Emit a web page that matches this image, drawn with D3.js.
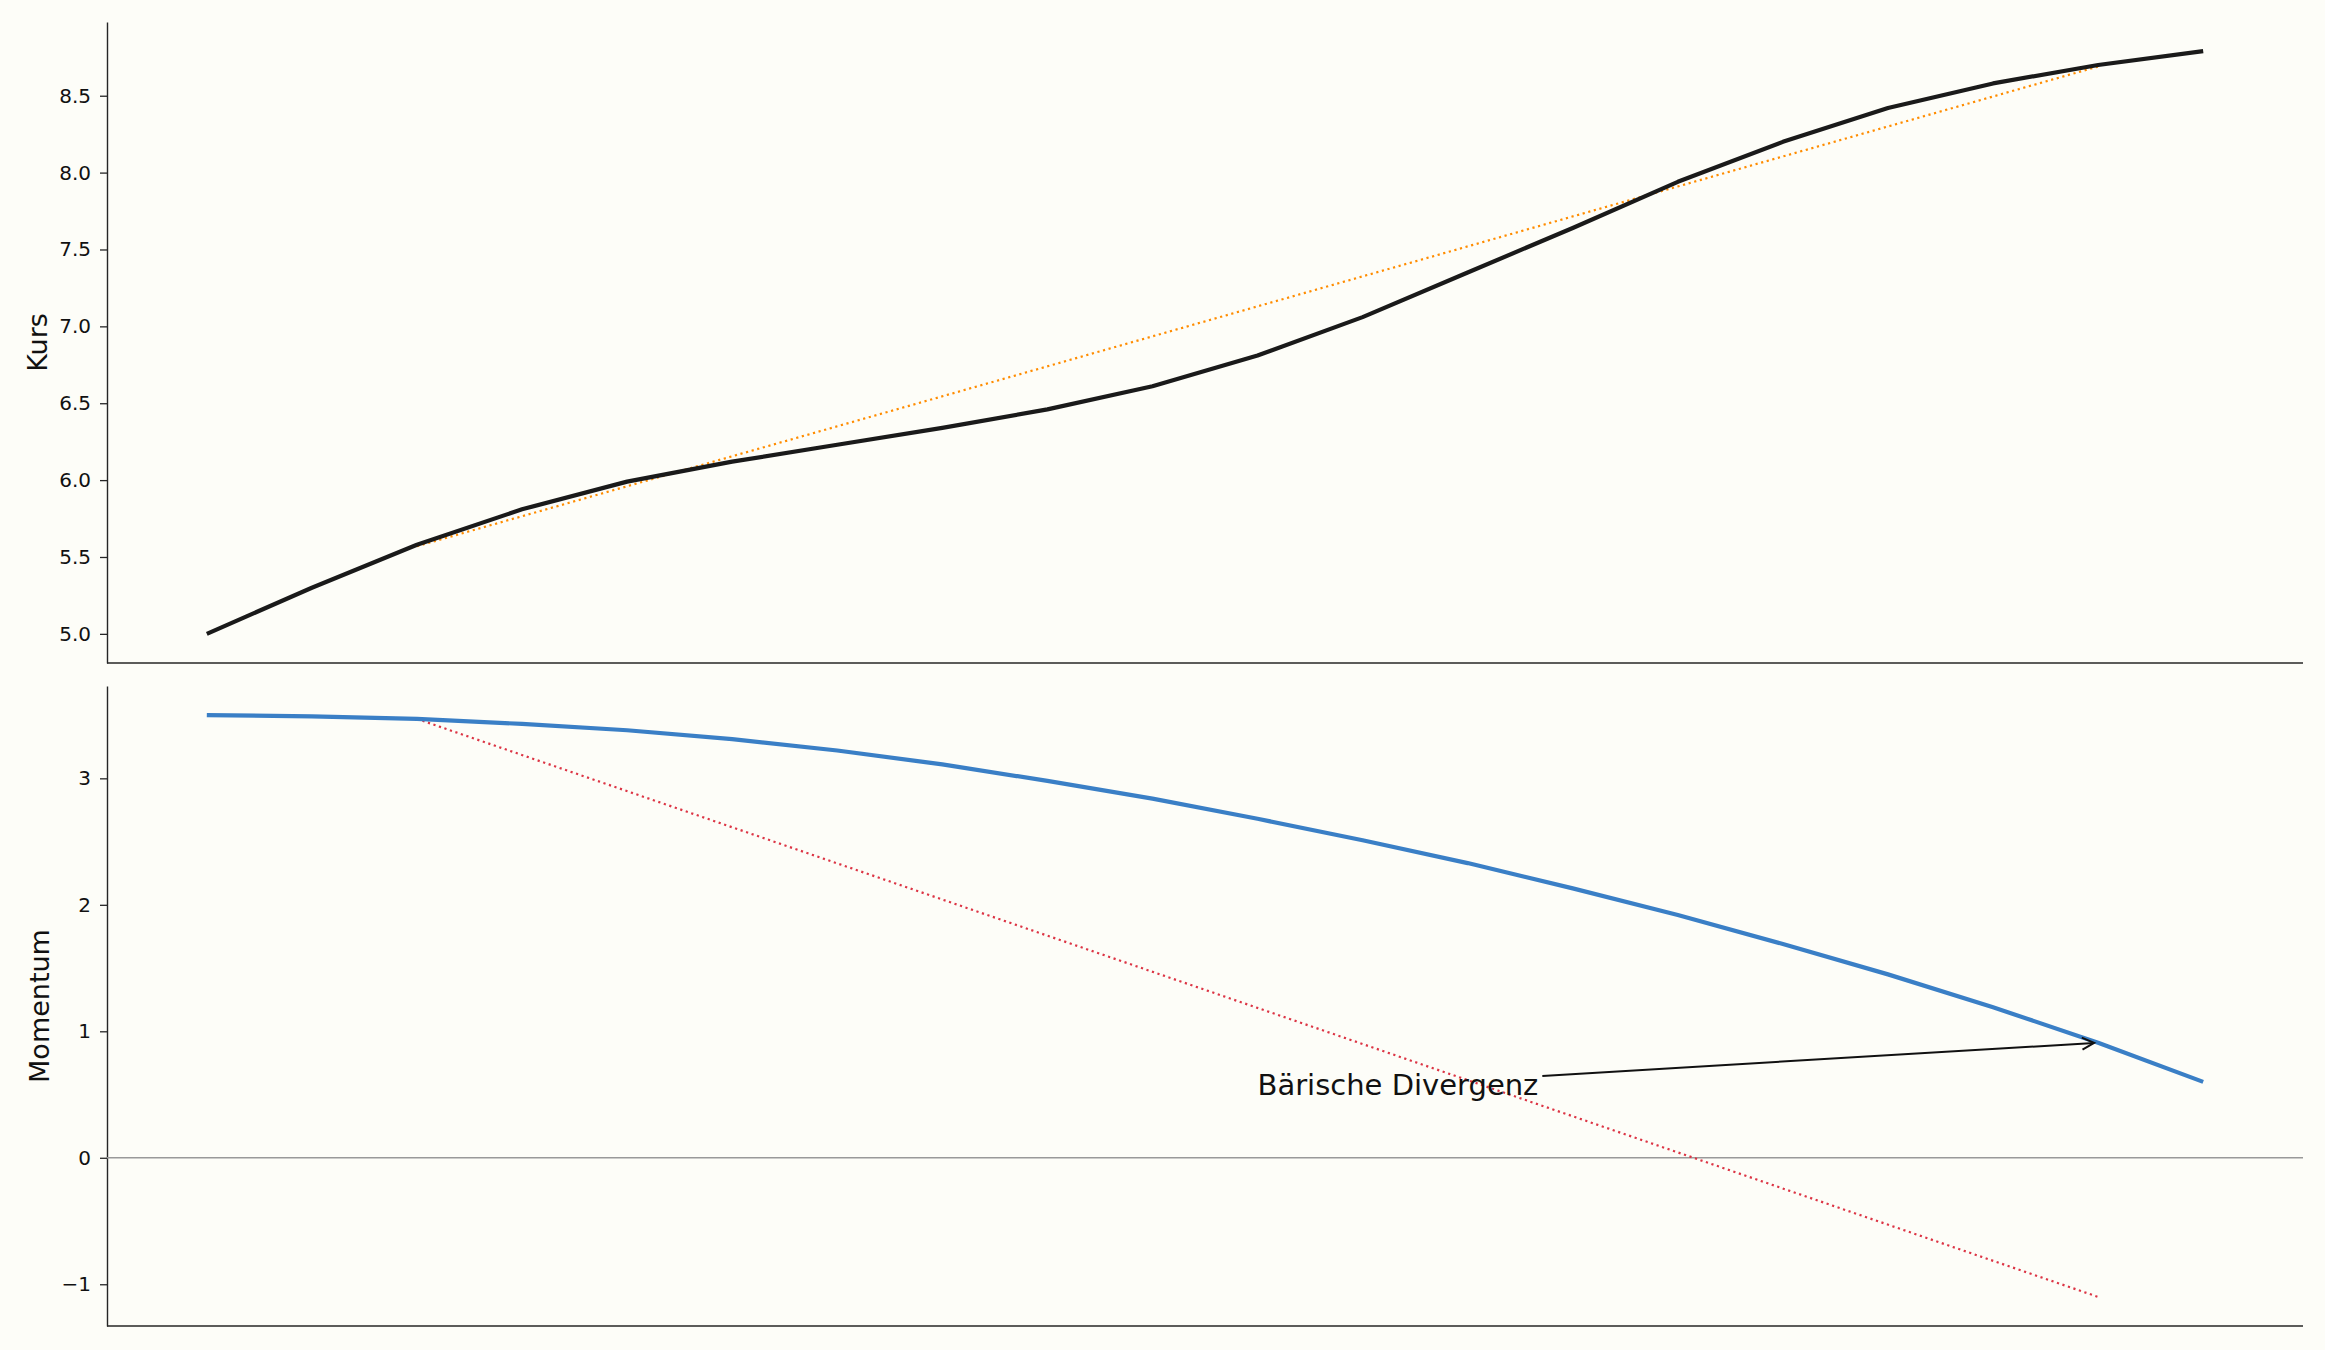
<!DOCTYPE html>
<html>
<head>
<meta charset="utf-8">
<script src="https://cdn.jsdelivr.net/npm/d3@7"></script>
<style>
  body { margin: 0; background: #fdfdf8; }
  svg { display: block; font-family: "DejaVu Sans", sans-serif; }
</style>
</head>
<body>
<script>
// Daten
let idx = d3.range(20)
let kurs = [5.00, 5.30, 5.58, 5.81, 5.99, 6.12, 6.23, 6.34, 6.46, 6.61, 6.81, 7.06, 7.35, 7.64, 7.94, 8.20, 8.42, 8.58, 8.70, 8.79]
let momentum = [3.50, 3.49, 3.47, 3.43, 3.38, 3.31, 3.22, 3.11, 2.98, 2.84, 2.68, 2.51, 2.33, 2.13, 1.92, 1.69, 1.45, 1.19, 0.91, 0.60]
let trendX = [2, 18]
let kursTrend = [5.57, 8.69]
let momTrend = [3.47, -1.10]
let kursTicks = [5.0, 5.5, 6.0, 6.5, 7.0, 7.5, 8.0, 8.5]
let momTicks = [-1, 0, 1, 2, 3]
let annotText = 'Bärische Divergenz'
let annotXY = [10, 0.5]
let annotTarget = 18

const W = 2325, H = 1350
let left = 107, right = 2303
let top1 = 22, bot1 = 663
let top2 = 686, bot2 = 1326

let pad = (ext) => {
    let d = (ext[1] - ext[0]) * 0.05
    return [ext[0] - d, ext[1] + d]
}

let x = d3.scaleLinear().domain(pad([0, 19])).range([left, right])
let y1 = d3.scaleLinear().domain(pad(d3.extent(kurs.concat(kursTrend)))).range([bot1, top1])
let y2 = d3.scaleLinear().domain(pad(d3.extent(momentum.concat(momTrend)))).range([bot2, top2])

let svg = d3.select('body').append('svg').attr('width', W).attr('height', H)
svg.append('rect').attr('width', W).attr('height', H).attr('fill', '#fdfdf8')

let styleAxis = (g) => {
    g.attr('font-family', '"DejaVu Sans", sans-serif')
    g.select('.domain').attr('stroke', '#262626').attr('stroke-width', 1.4)
    g.selectAll('.tick line').attr('stroke', '#262626').attr('stroke-width', 1.3)
    g.selectAll('.tick text').attr('fill', '#111').style('font-size', '20px')
}

// Achsen oben
svg.append('g').attr('transform', `translate(${left},0)`)
    .call(d3.axisLeft(y1).tickValues(kursTicks).tickFormat(d3.format('.1f')).tickSizeInner(7).tickSizeOuter(0).tickPadding(9))
    .call(styleAxis)
svg.append('line').attr('x1', left).attr('x2', right).attr('y1', bot1).attr('y2', bot1)
    .attr('stroke', '#262626').attr('stroke-width', 1.4)

// Achsen unten
svg.append('g').attr('transform', `translate(${left},0)`)
    .call(d3.axisLeft(y2).tickValues(momTicks).tickFormat(d => d < 0 ? '\u2212' + Math.abs(d) : d).tickSizeInner(7).tickSizeOuter(0).tickPadding(9))
    .call(styleAxis)
svg.append('line').attr('x1', left).attr('x2', right).attr('y1', bot2).attr('y2', bot2)
    .attr('stroke', '#262626').attr('stroke-width', 1.4)

// Nulllinie
svg.append('line').attr('x1', left).attr('x2', right).attr('y1', y2(0)).attr('y2', y2(0))
    .attr('stroke', '#999').attr('stroke-width', 1.6)

// Achsentitel
svg.append('text').attr('transform', `translate(37,${(top1 + bot1) / 2}) rotate(-90)`)
    .attr('text-anchor', 'middle').attr('dominant-baseline', 'central')
    .style('font-size', '27px').attr('fill', '#111').text('Kurs')
svg.append('text').attr('transform', `translate(39,${(top2 + bot2) / 2}) rotate(-90)`)
    .attr('text-anchor', 'middle').attr('dominant-baseline', 'central')
    .style('font-size', '27px').attr('fill', '#111').text('Momentum')

// Linien
let line1 = d3.line().x((d, i) => x(idx[i])).y(d => y1(d))
let line2 = d3.line().x((d, i) => x(idx[i])).y(d => y2(d))

svg.append('path').datum(kursTrend)
    .attr('d', d3.line().x((d, i) => x(trendX[i])).y(d => y1(d)))
    .attr('fill', 'none').attr('stroke', '#ff8c00').attr('stroke-width', 2.2)
    .attr('stroke-dasharray', '2.2,3.6')
svg.append('path').datum(kurs).attr('d', line1)
    .attr('fill', 'none').attr('stroke', '#1a1a1a').attr('stroke-width', 4.2)
    .attr('stroke-linejoin', 'round')

svg.append('path').datum(momTrend)
    .attr('d', d3.line().x((d, i) => x(trendX[i])).y(d => y2(d)))
    .attr('fill', 'none').attr('stroke', '#dc3545').attr('stroke-width', 2.2)
    .attr('stroke-dasharray', '2.2,3.6')
svg.append('path').datum(momentum).attr('d', line2)
    .attr('fill', 'none').attr('stroke', '#3a7fc6').attr('stroke-width', 4.2)
    .attr('stroke-linejoin', 'round')

// Annotation mit Pfeil
let txt = svg.append('text').attr('x', x(annotXY[0])).attr('y', y2(annotXY[1]))
    .style('font-size', '29px').attr('fill', '#111').text(annotText)
let bb = txt.node().getBBox()
let cx = bb.x + bb.width / 2, cy = bb.y + bb.height / 2
let tx = x(annotTarget), ty = y2(momentum[annotTarget])
let dx = tx - cx, dy = ty - cy
let t = Math.min(Math.abs(bb.width / 2 / dx), dy !== 0 ? Math.abs(bb.height / 2 / dy) : Infinity)
let len = Math.hypot(dx, dy)
let ux = dx / len, uy = dy / len
let sx = cx + dx * t + ux * 4, sy = cy + dy * t + uy * 4
let ex = tx - ux * 4, ey = ty - uy * 4
svg.append('line').attr('x1', sx).attr('y1', sy).attr('x2', ex).attr('y2', ey)
    .attr('stroke', '#111').attr('stroke-width', 2)
let hl = 12, hw = 6
svg.append('path')
    .attr('d', `M${ex - ux * hl - uy * hw},${ey - uy * hl + ux * hw} L${ex},${ey} L${ex - ux * hl + uy * hw},${ey - uy * hl - ux * hw}`)
    .attr('fill', 'none').attr('stroke', '#111').attr('stroke-width', 2)
</script>
</body>
</html>
